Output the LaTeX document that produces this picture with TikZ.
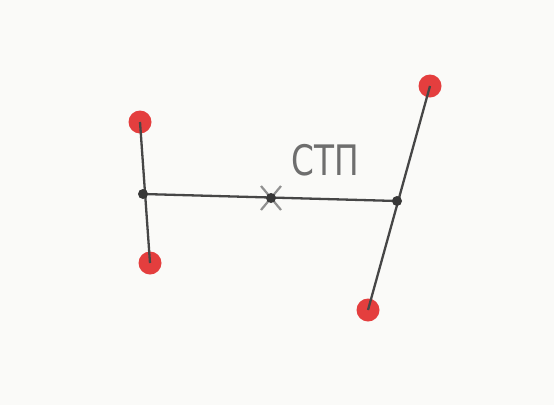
\documentclass[tikz,border=0pt]{standalone}
\usepackage{fontspec}
\usetikzlibrary{calc}
\newfontfamily\cyrfont{DejaVu Sans}
\definecolor{bg}{RGB}{250,250,248}
\definecolor{ink}{RGB}{70,70,70}
\definecolor{dotred}{RGB}{228,62,62}
\definecolor{txtgray}{RGB}{110,110,110}
\tikzset{
  endpt/.style={circle,fill=dotred,inner sep=0pt,minimum size=23pt},
  joint/.style={circle,fill=ink!80!black,inner sep=0pt,minimum size=10pt},
  bar/.style={draw=ink,line width=2.3pt},
  crossline/.style={draw=ink!60,line width=2.2pt},
}
\begin{document}
\begin{tikzpicture}[x=1pt,y=-1pt]
\fill[bg] (0,0) rectangle (554,405);
\useasboundingbox (0,0) rectangle (554,405);
\node[endpt] (lt) at (140,122) {};
\node[endpt] (lb) at (150,263) {};
\node[endpt] (rt) at (430,86) {};
\node[endpt] (rb) at (368,310) {};
\coordinate (lj) at (143,194);
\coordinate (rj) at (397,201);
\coordinate (c) at (271,198);
\draw[bar] (lt.center) -- (lb.center);
\draw[bar] (rt.center) -- (rb.center);
\draw[bar] (lj) -- (rj);
\draw[crossline] ($(c)+(-10,-12)$) -- ($(c)+(10,12)$);
\draw[crossline] ($(c)+(10,-12)$) -- ($(c)+(-10,12)$);
\node[joint] (ljd) at (lj) {};
\node[joint] (rjd) at (rj) {};
\node[joint] (cd) at (c) {};
\node[text=txtgray,xscale=0.78,font=\cyrfont\fontsize{42}{42}\selectfont] (lbl) at (325,160) {СТП};
\end{tikzpicture}
\end{document}
